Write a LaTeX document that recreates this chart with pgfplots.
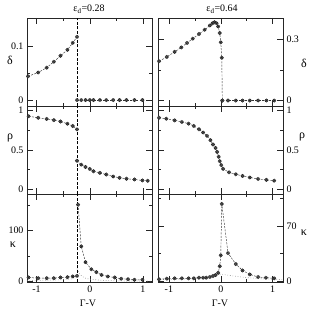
\documentclass[border=0pt]{standalone}
\usepackage{fontspec}
\setmainfont{Liberation Serif}
\usepackage{pgfplots}
\pgfplotsset{compat=1.18}
\pgfplotsset{
  panel/.style={scale only axis, width=125bp, height=88bp,
    axis line style={line width=0.5pt, black!85},
    every tick/.style={black!85, line width=0.5pt},
    major tick length=6bp, minor tick length=3bp, tick align=inside,
    xtick={-1,0,1}, minor xtick={-0.5,0.5}, xticklabels={},
    /pgf/number format/assume math mode=true,
    ticklabel style={font=\fontsize{10}{12}\selectfont},
    clip=false},
  leftcol/.style={panel, xmin=-1.18, xmax=1.17, ytick pos=both, yticklabel pos=left, xtick pos=both},
  rightcol/.style={panel, xmin=-1.21, xmax=1.2, ytick pos=both, yticklabel pos=right, xtick pos=both},
  bottomrow/.style={xticklabels={-1,0,1}, xtick pos=both, xticklabel pos=lower},
  dat/.style={black!80, dash pattern=on 2bp off 1.3bp, line width=0.45pt, mark=otimes*, mark size=1.7bp,
    mark options={solid, fill=gray!35, draw=black!85, line width=0.5pt}},
  vline/.style={black, line width=0.9pt, dash pattern=on 3bp off 1.5bp},
  dotc/.style={gray, dotted, line width=0.6pt}
}
\begin{document}
\begin{tikzpicture}
\path[use as bounding box] (0,0) rectangle (311bp,310bp);
% ---- left column
\begin{axis}[leftcol, at={(27bp,204bp)}, anchor=south west, ymin=-0.011, ymax=0.152,
  ytick={0,0.1}, minor ytick={0.05}, yticklabels={0,0.1}]
\addplot[dat] coordinates {(-1.16,0.044) (-0.97,0.051) (-0.81,0.060) (-0.675,0.071) (-0.55,0.082) (-0.42,0.093) (-0.32,0.106) (-0.24,0.117)};
\addplot[dat] coordinates {(-0.24,0) (-0.16,0) (-0.08,0) (0,0) (0.07,0) (0.19,0) (0.31,0) (0.44,0) (0.56,0) (0.69,0) (0.84,0) (0.99,0)};
\addplot[vline] coordinates {(-0.24,-0.011) (-0.24,0.152)};
\end{axis}
\begin{axis}[leftcol, at={(27bp,116bp)}, anchor=south west, ymin=-0.06, ymax=1.06,
  ytick={0,0.5,1}, minor ytick={0.25,0.75}, yticklabels={0,0.5,1}]
\addplot[dat] coordinates {(-1.15,0.93) (-0.97,0.91) (-0.81,0.896) (-0.675,0.88) (-0.55,0.863) (-0.42,0.834) (-0.32,0.805) (-0.24,0.763)};
\addplot[dat] coordinates {(-0.24,0.363) (-0.16,0.313) (-0.08,0.284) (0,0.259) (0.07,0.229) (0.19,0.209) (0.31,0.188) (0.44,0.163) (0.56,0.146) (0.69,0.134) (0.84,0.125) (0.99,0.113) (1.09,0.108)};
\addplot[vline] coordinates {(-0.24,-0.06) (-0.24,1.06)};
\end{axis}
\begin{axis}[leftcol, bottomrow, at={(27bp,28bp)}, anchor=south west, ymin=-1, ymax=172,
  ytick={0,100}, minor ytick={50,150}, yticklabels={0,100}]
\addplot[dotc] coordinates {(-1.18,2) (-0.8,2.5) (-0.5,3.5) (-0.35,5) (-0.28,8) (-0.24,12)};
\addplot[dotc] coordinates {(-0.24,25) (-0.19,14) (-0.1,7) (0,4.5) (0.2,2.5) (0.5,1.2) (1.17,0.5)};
\addplot[dat] coordinates {(-1.15,8) (-0.97,6.5) (-0.81,6.5) (-0.675,6.5) (-0.55,8) (-0.42,8.5) (-0.32,10) (-0.24,11)};
\addplot[dat] coordinates {(-0.22,151) (-0.16,69) (-0.08,38) (0.03,24) (0.125,18.4) (0.22,13) (0.34,9.9) (0.47,7.9) (0.59,5.3) (0.72,4.6) (0.84,3.3) (0.99,3.3)};
\addplot[vline] coordinates {(-0.24,-1) (-0.24,172)};
\end{axis}
% ---- right column
\begin{axis}[rightcol, at={(158bp,204bp)}, anchor=south west, ymin=-0.027, ymax=0.407,
  ytick={0,0.3}, minor ytick={0.15}, yticklabels={0,0.3}]
\addplot[dat] coordinates {(-1.19,0.194) (-1.04,0.215) (-0.89,0.240) (-0.76,0.262) (-0.65,0.284) (-0.54,0.305) (-0.42,0.328) (-0.31,0.349) (-0.21,0.370) (-0.16,0.381) (-0.12,0.386) (-0.08,0.381) (-0.05,0.365) (-0.02,0.333) (0.0,0.287) (0.02,0.211) (0.03,0)};
\addplot[dat] coordinates {(0.03,0) (0.14,0) (0.29,0) (0.42,0) (0.56,0) (0.72,0) (0.88,0) (1.03,0)};
\end{axis}
\begin{axis}[rightcol, at={(158bp,116bp)}, anchor=south west, ymin=-0.06, ymax=1.06,
  ytick={0,0.5,1}, minor ytick={0.25,0.75}, yticklabels={0,0.5,1}]
\addplot[dat] coordinates {(-1.19,0.91) (-1.05,0.898) (-0.89,0.877) (-0.75,0.857) (-0.62,0.835) (-0.52,0.806) (-0.42,0.764) (-0.34,0.722) (-0.265,0.68) (-0.2,0.625) (-0.15,0.57) (-0.10,0.526) (-0.07,0.476) (-0.04,0.413) (-0.02,0.358) (0.01,0.308) (0.045,0.26) (0.16,0.216) (0.29,0.191) (0.42,0.17) (0.56,0.15) (0.72,0.132) (0.88,0.12) (1.03,0.11)};
\end{axis}
\begin{axis}[rightcol, bottomrow, at={(158bp,28bp)}, anchor=south west, ymin=-0.5, ymax=110,
  ytick={0,70}, minor ytick={35,105}, yticklabels={0,70}]
\addplot[dotc] coordinates {(-1.21,2.5) (-0.8,3) (-0.5,4) (-0.3,5.5) (-0.15,7) (-0.05,8.5) (0.0,9.5) (0.1,8.5) (0.3,6.5) (0.5,5) (0.8,3.5) (1.2,2.5)};
\addplot[dat] coordinates {(-1.19,2.9) (-1.04,3.7) (-0.89,4.1) (-0.75,4.1) (-0.62,4.1) (-0.52,4.1) (-0.42,4.9) (-0.34,4.9) (-0.28,4.9) (-0.21,5.8) (-0.15,7) (-0.1,8.2) (-0.05,11) (-0.02,19.3) (0.0,33) (0.02,97.5) (0.14,35.8) (0.29,22) (0.42,14) (0.56,9) (0.72,5.8) (0.87,4.9) (1.03,4.1)};
\end{axis}
% ---- labels
\begin{scope}[every node/.style={font=\fontsize{10}{12}\selectfont, inner sep=0pt}]
\node at (89bp,301bp) {ε\textsubscript{d}=0.28};
\node at (222bp,301bp) {ε\textsubscript{d}=0.64};
\node at (88bp,7bp) {Γ-V};
\node at (220bp,7bp) {Γ-V};
\node[font=\fontsize{12}{14}\selectfont] at (10bp,250bp) {δ};
\node[font=\fontsize{12}{14}\selectfont] at (10bp,172bp) {ρ};
\node[font=\fontsize{12}{14}\selectfont] at (13bp,65bp) {κ};
\node[font=\fontsize{12}{14}\selectfont] at (304bp,247bp) {δ};
\node[font=\fontsize{12}{14}\selectfont] at (302bp,173bp) {ρ};
\node[font=\fontsize{12}{14}\selectfont] at (304bp,77bp) {κ};
\end{scope}
\end{tikzpicture}
\end{document}
